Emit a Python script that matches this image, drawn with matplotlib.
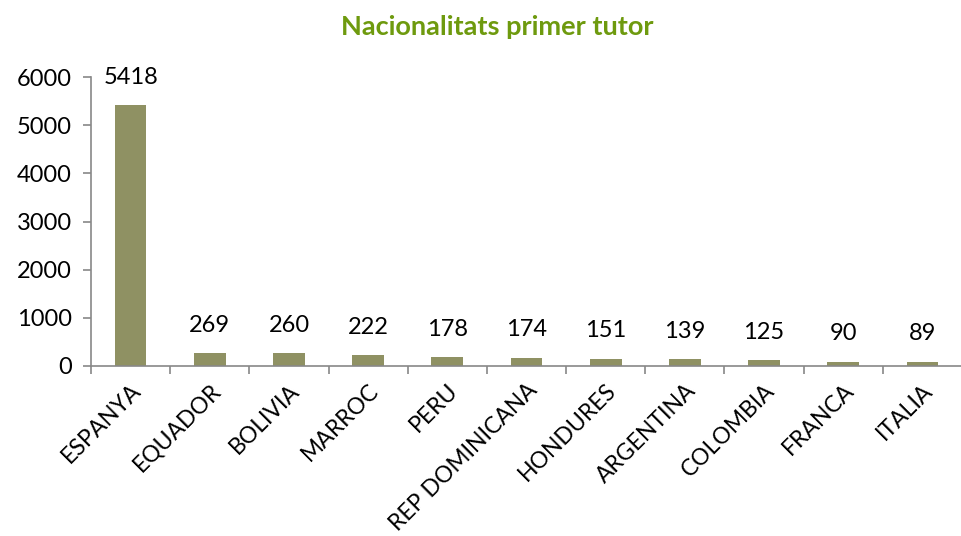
import matplotlib
matplotlib.use("Agg")
import matplotlib.pyplot as plt
import numpy as np

categories = ["ESPANYA", "EQUADOR", "BOLIVIA", "MARROC", "PERU", "REP DOMINICANA",
              "HONDURES", "ARGENTINA", "COLOMBIA", "FRANCA", "ITALIA"]
values = [5418, 269, 260, 222, 178, 174, 151, 139, 125, 90, 89]
yticks = [0, 1000, 2000, 3000, 4000, 5000, 6000]

plt.rcParams['font.family'] = ['Lato', 'DejaVu Sans']
W, H = 962, 536
fig = plt.figure(figsize=(W/100, H/100), dpi=100)
ax = fig.add_axes([91/W, 1-366/H, (962-91)/W, (366-77)/H])
x = np.arange(len(categories))
ax.bar(x, values, width=0.4, color="#8F9163", zorder=2)
ax.set_xlim(-0.5, 10.39)
ax.set_ylim(0, 6000)
for s in ['top', 'right']:
    ax.spines[s].set_visible(False)
for s in ['left', 'bottom']:
    ax.spines[s].set_color('#888888')
    ax.spines[s].set_linewidth(1.2)
ax.set_yticks(yticks)
ax.set_yticklabels([str(v) for v in yticks])
ax.set_xticks(x)
ax.set_xticklabels(categories, rotation=45, ha='right', rotation_mode='anchor')
ax.tick_params(axis='x', which='major', length=0, pad=10, labelsize=16.5)
ax.set_xticks(np.arange(-0.5, 10.6, 1), minor=True)
ax.tick_params(axis='x', which='minor', length=6, color='#888888', width=1.2)
ax.tick_params(axis='y', length=6, color='#888888', width=1.2, pad=8, labelsize=17)
for xi, v in zip(x, values):
    ax.annotate(str(v), (xi, v), xytext=(0, 20), textcoords='offset points',
                ha='center', va='center', fontsize=17)
fig.text(497/W, 1-27/H, "Nacionalitats primer tutor", ha='center', va='center',
         fontsize=19.5, fontweight='bold', color='#6E9A0E')
fig.savefig("out.png", dpi=100)
